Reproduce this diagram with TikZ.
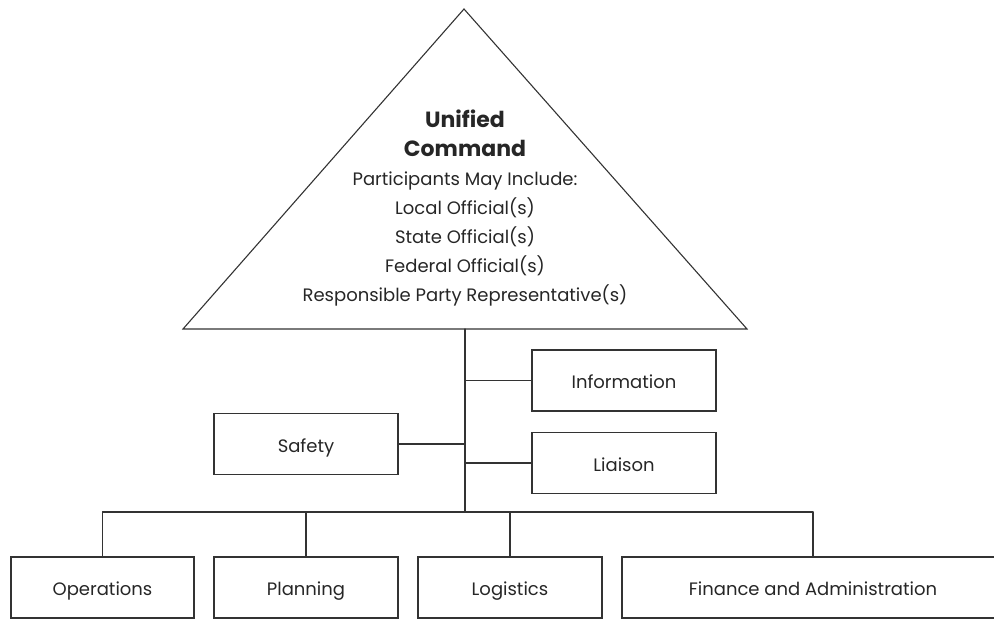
\documentclass[tikz,border=0pt]{standalone}
\usepackage{fontspec}
\setmainfont{Poppins}
\begin{document}
\begin{tikzpicture}[x=1pt,y=-1pt]
        % Styles
        \tikzstyle{line}=[line width=1.1pt,black!80,line cap=round]
        \tikzstyle{unit}=[draw,line width=1.1pt,black!80,text=black!85,minimum width=184pt,minimum height=61pt,inner sep=0pt,text height=16pt,text depth=0pt,font=\fontsize{18}{22}\selectfont]
        \tikzstyle{command text}=[align=center,text=black!85,font=\fontsize{18}{29}\selectfont]
        \useasboundingbox (0,0) rectangle (994,622);
        %The graphic
        %command triangle
        \coordinate (apex) at (464,9);
        \coordinate (base left) at (183,329);
        \coordinate (base right) at (747,329);
        \coordinate (stem) at (465,329);
        \coordinate (bus) at (465,512);
        \draw[line,line join=miter] (apex) -- (base left) -- (base right) -- cycle;
        \node[command text] (uc) at (465,208) {{\fontsize{22}{29}\selectfont\bfseries Unified}\\
            {\fontsize{22}{29}\selectfont\bfseries Command}\\
            Participants May Include:\\
            Local Official(s)\\
            State Official(s)\\
            Federal Official(s)\\
            Responsible Party Representative(s)};
        %staff
        \node[unit] (info) at (624,380.5) {Information};
        \node[unit] (liaison) at (624,463) {Liaison};
        \node[unit] (safety) at (306,444) {Safety};
        %sections
        \node[unit,minimum width=183pt] (ops) at (102.5,587.5) {Operations};
        \node[unit] (plan) at (306,587.5) {Planning};
        \node[unit] (logi) at (510,587.5) {Logistics};
        \node[unit,minimum width=382pt] (fin) at (813,587.5) {Finance and Administration};
        %connectors
        \draw[line] (stem) -- (bus);
        \draw[line] (info.west) -- (info.west -| stem);
        \draw[line] (liaison.west) -- (liaison.west -| stem);
        \draw[line] (safety.east) -- (safety.east -| stem);
        \draw[line] (ops.north |- bus) -- (fin.north |- bus);
        \foreach \n in {ops,plan,logi,fin}
            \draw[line] (\n.north) -- (\n.north |- bus);
    \end{tikzpicture}
\end{document}
